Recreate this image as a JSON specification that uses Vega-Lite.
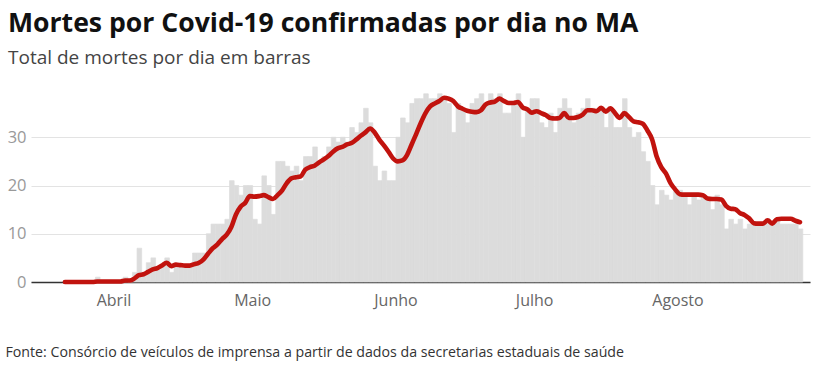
{
  "$schema": "https://vega.github.io/schema/vega-lite/v6.json",
  "width": 779,
  "height": 193,
  "autosize": "none",
  "padding": {"left": 31, "top": 89, "right": 6, "bottom": 83},
  "background": "white",
  "config": {"view": {"stroke": null}},
  "title": {
    "text": "Mortes por Covid-19 confirmadas por dia no MA",
    "subtitle": "Total de mortes por dia em barras",
    "anchor": "start",
    "frame": "group",
    "dx": -23,
    "offset": 21,
    "font": "Open Sans",
    "fontSize": 26.6,
    "fontWeight": 700,
    "color": "#111111",
    "subtitleFont": "Open Sans",
    "subtitleFontSize": 19,
    "subtitleColor": "#444444",
    "subtitlePadding": 11
  },
  "data": {
    "values": [
      {"dia": "2020-03-21", "mortes": 0, "media": 0},
      {"dia": "2020-03-22", "mortes": 0, "media": 0},
      {"dia": "2020-03-23", "mortes": 0, "media": 0},
      {"dia": "2020-03-24", "mortes": 0, "media": 0},
      {"dia": "2020-03-25", "mortes": 0, "media": 0},
      {"dia": "2020-03-26", "mortes": 0, "media": 0},
      {"dia": "2020-03-27", "mortes": 0, "media": 0},
      {"dia": "2020-03-28", "mortes": 1, "media": 0.1},
      {"dia": "2020-03-29", "mortes": 0, "media": 0.1},
      {"dia": "2020-03-30", "mortes": 0, "media": 0.1},
      {"dia": "2020-03-31", "mortes": 0, "media": 0.1},
      {"dia": "2020-04-01", "mortes": 0, "media": 0.1},
      {"dia": "2020-04-02", "mortes": 0, "media": 0.1},
      {"dia": "2020-04-03", "mortes": 1, "media": 0.3},
      {"dia": "2020-04-04", "mortes": 0, "media": 0.3},
      {"dia": "2020-04-05", "mortes": 2, "media": 0.7},
      {"dia": "2020-04-06", "mortes": 7, "media": 1.4},
      {"dia": "2020-04-07", "mortes": 2, "media": 1.6},
      {"dia": "2020-04-08", "mortes": 4, "media": 2.1},
      {"dia": "2020-04-09", "mortes": 5, "media": 2.6},
      {"dia": "2020-04-10", "mortes": 3, "media": 2.9},
      {"dia": "2020-04-11", "mortes": 3, "media": 3.4},
      {"dia": "2020-04-12", "mortes": 5, "media": 4.0},
      {"dia": "2020-04-13", "mortes": 2, "media": 3.3},
      {"dia": "2020-04-14", "mortes": 3, "media": 3.6},
      {"dia": "2020-04-15", "mortes": 3, "media": 3.5},
      {"dia": "2020-04-16", "mortes": 3, "media": 3.4},
      {"dia": "2020-04-17", "mortes": 3, "media": 3.4},
      {"dia": "2020-04-18", "mortes": 6, "media": 3.7},
      {"dia": "2020-04-19", "mortes": 6, "media": 4.0},
      {"dia": "2020-04-20", "mortes": 6, "media": 4.7},
      {"dia": "2020-04-21", "mortes": 10, "media": 5.9},
      {"dia": "2020-04-22", "mortes": 12, "media": 7.0},
      {"dia": "2020-04-23", "mortes": 12, "media": 7.8},
      {"dia": "2020-04-24", "mortes": 12, "media": 8.9},
      {"dia": "2020-04-25", "mortes": 13, "media": 9.8},
      {"dia": "2020-04-26", "mortes": 21, "media": 11.4},
      {"dia": "2020-04-27", "mortes": 20, "media": 14.0},
      {"dia": "2020-04-28", "mortes": 18, "media": 15.6},
      {"dia": "2020-04-29", "mortes": 20, "media": 16.4},
      {"dia": "2020-04-30", "mortes": 20, "media": 17.8},
      {"dia": "2020-05-01", "mortes": 13, "media": 17.7},
      {"dia": "2020-05-02", "mortes": 12, "media": 17.8},
      {"dia": "2020-05-03", "mortes": 22, "media": 18.0},
      {"dia": "2020-05-04", "mortes": 20, "media": 17.6},
      {"dia": "2020-05-05", "mortes": 14, "media": 17.2},
      {"dia": "2020-05-06", "mortes": 25, "media": 18.0},
      {"dia": "2020-05-07", "mortes": 25, "media": 19.0},
      {"dia": "2020-05-08", "mortes": 24, "media": 20.5},
      {"dia": "2020-05-09", "mortes": 23, "media": 21.5},
      {"dia": "2020-05-10", "mortes": 24, "media": 21.7},
      {"dia": "2020-05-11", "mortes": 21, "media": 21.9},
      {"dia": "2020-05-12", "mortes": 26, "media": 23.3},
      {"dia": "2020-05-13", "mortes": 26, "media": 23.8},
      {"dia": "2020-05-14", "mortes": 28, "media": 24.1},
      {"dia": "2020-05-15", "mortes": 25, "media": 24.8},
      {"dia": "2020-05-16", "mortes": 26, "media": 25.4},
      {"dia": "2020-05-17", "mortes": 28, "media": 26.1},
      {"dia": "2020-05-18", "mortes": 30, "media": 27.0},
      {"dia": "2020-05-19", "mortes": 29, "media": 27.7},
      {"dia": "2020-05-20", "mortes": 30, "media": 28.0},
      {"dia": "2020-05-21", "mortes": 29, "media": 28.5},
      {"dia": "2020-05-22", "mortes": 32, "media": 28.8},
      {"dia": "2020-05-23", "mortes": 31, "media": 29.5},
      {"dia": "2020-05-24", "mortes": 33, "media": 30.3},
      {"dia": "2020-05-25", "mortes": 36, "media": 31.0},
      {"dia": "2020-05-26", "mortes": 33, "media": 31.8},
      {"dia": "2020-05-27", "mortes": 24, "media": 31.0},
      {"dia": "2020-05-28", "mortes": 21, "media": 29.5},
      {"dia": "2020-05-29", "mortes": 23, "media": 28.3},
      {"dia": "2020-05-30", "mortes": 21, "media": 27.0},
      {"dia": "2020-05-31", "mortes": 21, "media": 25.6},
      {"dia": "2020-06-01", "mortes": 30, "media": 25.0},
      {"dia": "2020-06-02", "mortes": 34, "media": 25.2},
      {"dia": "2020-06-03", "mortes": 33, "media": 26.3},
      {"dia": "2020-06-04", "mortes": 37, "media": 28.5},
      {"dia": "2020-06-05", "mortes": 38, "media": 30.7},
      {"dia": "2020-06-06", "mortes": 38, "media": 33.0},
      {"dia": "2020-06-07", "mortes": 39, "media": 35.0},
      {"dia": "2020-06-08", "mortes": 38, "media": 36.4},
      {"dia": "2020-06-09", "mortes": 38, "media": 37.0},
      {"dia": "2020-06-10", "mortes": 39, "media": 37.5},
      {"dia": "2020-06-11", "mortes": 38, "media": 38.2},
      {"dia": "2020-06-12", "mortes": 37, "media": 38.0},
      {"dia": "2020-06-13", "mortes": 31, "media": 37.5},
      {"dia": "2020-06-14", "mortes": 37, "media": 36.4},
      {"dia": "2020-06-15", "mortes": 36, "media": 35.9},
      {"dia": "2020-06-16", "mortes": 33, "media": 35.5},
      {"dia": "2020-06-17", "mortes": 37, "media": 35.3},
      {"dia": "2020-06-18", "mortes": 38, "media": 35.2},
      {"dia": "2020-06-19", "mortes": 39, "media": 35.6},
      {"dia": "2020-06-20", "mortes": 37, "media": 36.8},
      {"dia": "2020-06-21", "mortes": 39, "media": 37.2},
      {"dia": "2020-06-22", "mortes": 38, "media": 37.4},
      {"dia": "2020-06-23", "mortes": 39, "media": 38.0},
      {"dia": "2020-06-24", "mortes": 35, "media": 37.5},
      {"dia": "2020-06-25", "mortes": 35, "media": 37.1},
      {"dia": "2020-06-26", "mortes": 37, "media": 37.1},
      {"dia": "2020-06-27", "mortes": 39, "media": 37.3},
      {"dia": "2020-06-28", "mortes": 30, "media": 36.2},
      {"dia": "2020-06-29", "mortes": 36, "media": 35.8},
      {"dia": "2020-06-30", "mortes": 38, "media": 35.1},
      {"dia": "2020-07-01", "mortes": 38, "media": 35.4},
      {"dia": "2020-07-02", "mortes": 33, "media": 35.0},
      {"dia": "2020-07-03", "mortes": 32, "media": 34.6},
      {"dia": "2020-07-04", "mortes": 35, "media": 34.0},
      {"dia": "2020-07-05", "mortes": 31, "media": 33.9},
      {"dia": "2020-07-06", "mortes": 36, "media": 34.0},
      {"dia": "2020-07-07", "mortes": 38, "media": 35.0},
      {"dia": "2020-07-08", "mortes": 36, "media": 34.0},
      {"dia": "2020-07-09", "mortes": 33, "media": 34.0},
      {"dia": "2020-07-10", "mortes": 35, "media": 34.2},
      {"dia": "2020-07-11", "mortes": 36, "media": 34.7},
      {"dia": "2020-07-12", "mortes": 38, "media": 35.6},
      {"dia": "2020-07-13", "mortes": 36, "media": 35.6},
      {"dia": "2020-07-14", "mortes": 35, "media": 35.4},
      {"dia": "2020-07-15", "mortes": 36, "media": 36.1},
      {"dia": "2020-07-16", "mortes": 32, "media": 35.3},
      {"dia": "2020-07-17", "mortes": 36, "media": 36.0},
      {"dia": "2020-07-18", "mortes": 32, "media": 35.0},
      {"dia": "2020-07-19", "mortes": 32, "media": 34.0},
      {"dia": "2020-07-20", "mortes": 38, "media": 35.0},
      {"dia": "2020-07-21", "mortes": 32, "media": 34.2},
      {"dia": "2020-07-22", "mortes": 30, "media": 33.3},
      {"dia": "2020-07-23", "mortes": 31, "media": 33.1},
      {"dia": "2020-07-24", "mortes": 27, "media": 32.8},
      {"dia": "2020-07-25", "mortes": 25, "media": 31.4},
      {"dia": "2020-07-26", "mortes": 20, "media": 29.6},
      {"dia": "2020-07-27", "mortes": 16, "media": 26.0},
      {"dia": "2020-07-28", "mortes": 19, "media": 23.8},
      {"dia": "2020-07-29", "mortes": 18, "media": 22.5},
      {"dia": "2020-07-30", "mortes": 17, "media": 20.5},
      {"dia": "2020-07-31", "mortes": 19, "media": 19.2},
      {"dia": "2020-08-01", "mortes": 19, "media": 18.2},
      {"dia": "2020-08-02", "mortes": 18, "media": 18.1},
      {"dia": "2020-08-03", "mortes": 16, "media": 18.1},
      {"dia": "2020-08-04", "mortes": 18, "media": 18.1},
      {"dia": "2020-08-05", "mortes": 17, "media": 18.1},
      {"dia": "2020-08-06", "mortes": 18, "media": 18.0},
      {"dia": "2020-08-07", "mortes": 17, "media": 17.3},
      {"dia": "2020-08-08", "mortes": 15, "media": 17.2},
      {"dia": "2020-08-09", "mortes": 18, "media": 17.2},
      {"dia": "2020-08-10", "mortes": 16, "media": 17.1},
      {"dia": "2020-08-11", "mortes": 11, "media": 15.8},
      {"dia": "2020-08-12", "mortes": 13, "media": 15.2},
      {"dia": "2020-08-13", "mortes": 12, "media": 15.1},
      {"dia": "2020-08-14", "mortes": 13, "media": 14.3},
      {"dia": "2020-08-15", "mortes": 11, "media": 13.9},
      {"dia": "2020-08-16", "mortes": 12, "media": 13.2},
      {"dia": "2020-08-17", "mortes": 12, "media": 12.2},
      {"dia": "2020-08-18", "mortes": 12, "media": 12.1},
      {"dia": "2020-08-19", "mortes": 12, "media": 12.1},
      {"dia": "2020-08-20", "mortes": 13, "media": 12.8},
      {"dia": "2020-08-21", "mortes": 12, "media": 12.1},
      {"dia": "2020-08-22", "mortes": 13, "media": 13.0},
      {"dia": "2020-08-23", "mortes": 12, "media": 13.1},
      {"dia": "2020-08-24", "mortes": 12, "media": 13.1},
      {"dia": "2020-08-25", "mortes": 12, "media": 13.1},
      {"dia": "2020-08-26", "mortes": 12, "media": 12.7},
      {"dia": "2020-08-27", "mortes": 11, "media": 12.4}
    ]
  },
  "layer": [
    {
      "mark": {"type": "bar", "color": "#dcdcdc", "stroke": "#dcdcdc", "strokeWidth": 0.7, "binSpacing": 0},
      "encoding": {
        "x": {
          "field": "dia",
          "timeUnit": "utcyearmonthdate",
          "type": "temporal",
          "scale": {
            "type": "utc",
            "domain": [
              {"year": 2020, "month": 3, "date": 14, "hours": 4, "utc": true},
              {"year": 2020, "month": 8, "date": 29, "hours": 16, "utc": true}
            ]
          },
          "axis": {
            "values": [
              {"year": 2020, "month": 4, "date": 1, "utc": true},
              {"year": 2020, "month": 5, "date": 1, "utc": true},
              {"year": 2020, "month": 6, "date": 1, "utc": true},
              {"year": 2020, "month": 7, "date": 1, "utc": true},
              {"year": 2020, "month": 8, "date": 1, "utc": true}
            ],
            "labelExpr": "['Jan','Fev','Mar','Abril','Maio','Junho','Julho','Agosto','Set'][utcmonth(datum.value)]",
            "grid": false,
            "ticks": false,
            "domain": true,
            "domainColor": "#333333",
            "domainWidth": 1.5,
            "labelFont": "Open Sans",
            "labelFontSize": 16,
            "labelColor": "#666666",
            "labelPadding": 10,
            "title": "Fonte: Consórcio de veículos de imprensa a partir de dados da secretarias estaduais de saúde",
            "titleFont": "Open Sans",
            "titleFontSize": 14.2,
            "titleFontWeight": "normal",
            "titleColor": "#333333",
            "titleAlign": "left",
            "titleAnchor": "start",
            "titleBaseline": "alphabetic",
            "titleX": -26,
            "titleY": 74
          }
        },
        "y": {
          "field": "mortes",
          "type": "quantitative",
          "scale": {"domain": [0, 40]},
          "axis": {
            "values": [0, 10, 20, 30],
            "grid": true,
            "gridColor": "#e3e3e3",
            "gridWidth": 1,
            "domain": false,
            "ticks": false,
            "labelFont": "Open Sans",
            "labelFontSize": 16.5,
            "labelColor": "#999999",
            "labelPadding": 5,
            "title": null
          }
        }
      }
    },
    {
      "mark": {"type": "line", "color": "#c1130e", "strokeWidth": 4.6, "strokeCap": "round", "strokeJoin": "round", "interpolate": "monotone"},
      "encoding": {
        "x": {"field": "dia", "timeUnit": "utcyearmonthdate", "type": "temporal", "bandPosition": 0.5},
        "y": {"field": "media", "type": "quantitative"}
      }
    }
  ]
}
